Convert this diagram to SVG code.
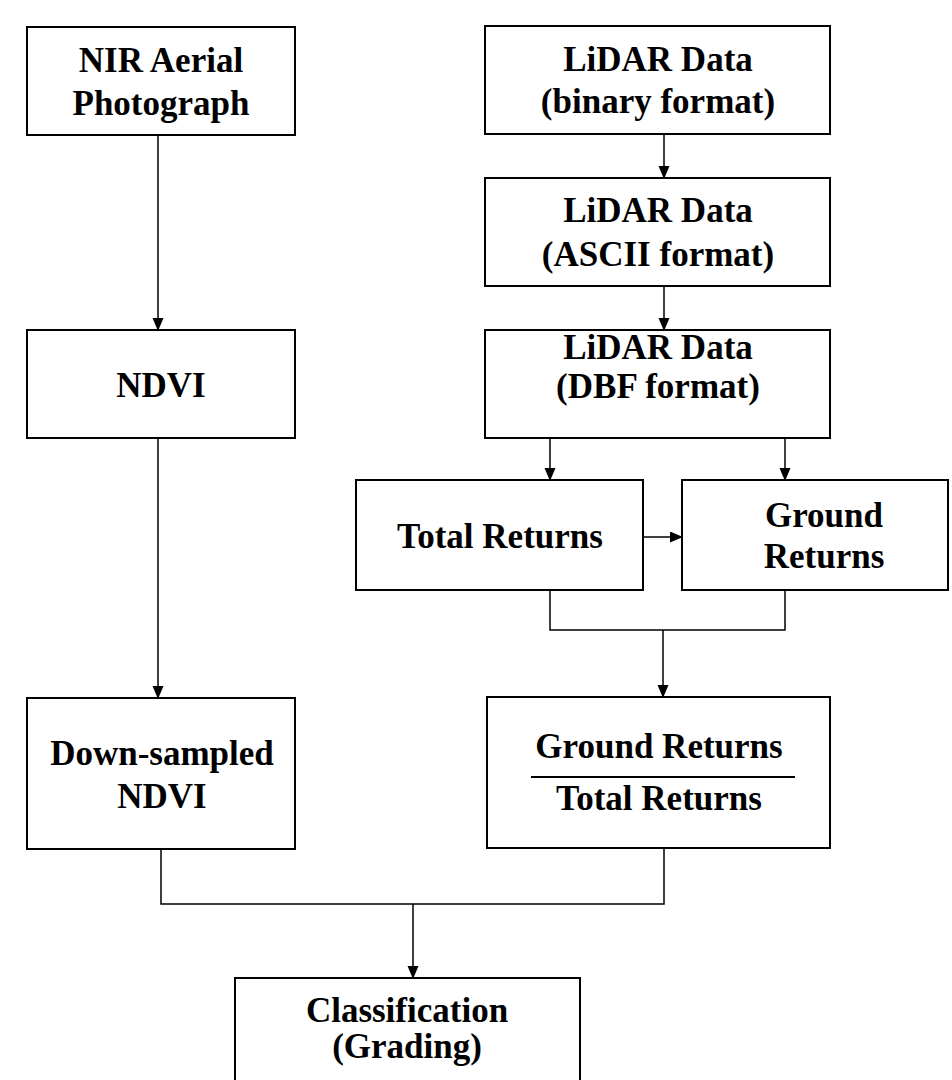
<svg xmlns="http://www.w3.org/2000/svg" width="952" height="1080" viewBox="0 0 952 1080">
<defs>
<marker id="ah" markerUnits="userSpaceOnUse" markerWidth="14" markerHeight="14" refX="12" refY="5.5" orient="auto">
<path d="M0,0 L13,5.5 L0,11 Z" fill="#000"/>
</marker>
<style>
.box{fill:#fff;stroke:#000;stroke-width:2}
.t{font-family:"Liberation Serif","Times New Roman",serif;font-weight:bold;font-size:35px;fill:#000;text-anchor:middle}
.c{fill:none;stroke:#000;stroke-width:1.5}
</style>
</defs>
<rect width="952" height="1080" fill="#fff"/>
<g id="connectors">
<line class="c" x1="158" y1="135" x2="158" y2="330" marker-end="url(#ah)"/>
<line class="c" x1="158" y1="438" x2="158" y2="698" marker-end="url(#ah)"/>
<line class="c" x1="664" y1="134" x2="664" y2="178" marker-end="url(#ah)"/>
<line class="c" x1="664" y1="286" x2="664" y2="330" marker-end="url(#ah)"/>
<line class="c" x1="550" y1="438" x2="550" y2="480" marker-end="url(#ah)"/>
<line class="c" x1="785" y1="438" x2="785" y2="480" marker-end="url(#ah)"/>
<line class="c" x1="643" y1="537" x2="682" y2="537" marker-end="url(#ah)"/>
<polyline class="c" points="550,590 550,630 785,630 785,590"/>
<line class="c" x1="663" y1="630" x2="663" y2="697" marker-end="url(#ah)"/>
<polyline class="c" points="161,849 161,904 664,904 664,848"/>
<line class="c" x1="413" y1="904" x2="413" y2="978" marker-end="url(#ah)"/>
</g>
<g id="nir">
<rect class="box" x="27" y="27" width="268" height="108"/>
<text class="t" x="161" y="72">NIR Aerial</text>
<text class="t" x="161" y="115">Photograph</text>
</g>
<g id="ndvi">
<rect class="box" x="27" y="330" width="268" height="108"/>
<text class="t" x="161" y="397">NDVI</text>
</g>
<g id="downsampled">
<rect class="box" x="27" y="698" width="268" height="151"/>
<text class="t" x="162" y="765">Down-sampled</text>
<text class="t" x="162" y="808">NDVI</text>
</g>
<g id="lidar-binary">
<rect class="box" x="485" y="26" width="345" height="108"/>
<text class="t" x="658" y="71">LiDAR Data</text>
<text class="t" x="658" y="113">(binary format)</text>
</g>
<g id="lidar-ascii">
<rect class="box" x="485" y="178" width="345" height="108"/>
<text class="t" x="658" y="222">LiDAR Data</text>
<text class="t" x="658" y="266">(ASCII format)</text>
</g>
<g id="lidar-dbf">
<rect class="box" x="485" y="330" width="345" height="108"/>
<text class="t" x="658" y="359">LiDAR Data</text>
<text class="t" x="658" y="398">(DBF format)</text>
</g>
<g id="total-returns">
<rect class="box" x="356" y="480" width="287" height="110"/>
<text class="t" x="500" y="548">Total Returns</text>
</g>
<g id="ground-returns">
<rect class="box" x="682" y="480" width="266" height="110"/>
<text class="t" x="824" y="527">Ground</text>
<text class="t" x="824" y="568">Returns</text>
</g>
<g id="ratio">
<rect class="box" x="487" y="697" width="343" height="151"/>
<text class="t" x="659" y="758">Ground Returns</text>
<line x1="531" y1="777" x2="795" y2="777" stroke="#000" stroke-width="2"/>
<text class="t" x="659" y="810">Total Returns</text>
</g>
<g id="classification">
<rect class="box" x="235" y="978" width="345" height="120"/>
<text class="t" x="407" y="1022">Classification</text>
<text class="t" x="407" y="1058">(Grading)</text>
</g>
</svg>
